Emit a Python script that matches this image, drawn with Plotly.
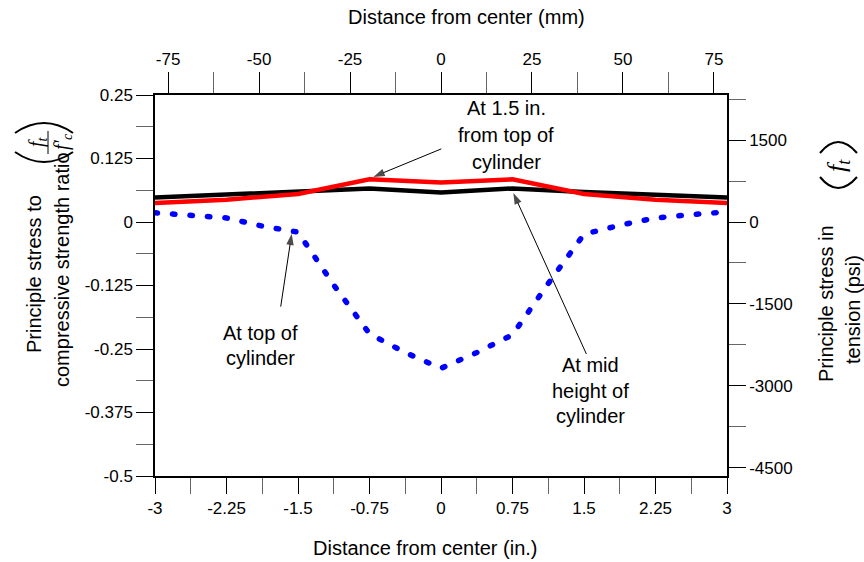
import plotly.graph_objects as go

# ---------------- data ----------------
x_in_lines = [-3, -2.25, -1.5, -0.75, 0, 0.75, 1.5, 2.25, 3]
mid_height = [0.048, 0.054, 0.060, 0.066, 0.058, 0.066, 0.059, 0.054, 0.048]
from_top_15 = [0.0375, 0.044, 0.055, 0.084, 0.078, 0.084, 0.055, 0.044, 0.0375]

x_in_top = [-3, -2.625, -2.25, -1.875, -1.5, -1.125, -0.75, -0.375, 0,
            0.375, 0.75, 1.125, 1.5, 1.875, 2.25, 2.625, 3]
top_of_cyl = [0.018, 0.014, 0.008, -0.008, -0.020, -0.124, -0.220, -0.257, -0.288,
              -0.257, -0.222, -0.121, -0.024, -0.0065, 0.008, 0.0145, 0.020]

x_ticks = [-3, -2.25, -1.5, -0.75, 0, 0.75, 1.5, 2.25, 3]
x_ticktext = ["-3", "-2.25", "-1.5", "-0.75", "0", "0.75", "1.5", "2.25", "3"]
y_ticks = [0.25, 0.125, 0, -0.125, -0.25, -0.375, -0.5]
y_ticktext = ["0.25", "0.125", "0", "-0.125", "-0.25", "-0.375", "-0.5"]
mm_ticks = [-75, -50, -25, 0, 25, 50, 75]
mm_ticktext = ["-75", "-50", "-25", "0", "25", "50", "75"]
psi_ticks = [1500, 0, -1500, -3000, -4500]
psi_ticktext = ["1500", "0", "-1500", "-3000", "-4500"]

FONT = "Liberation Sans, Arial, sans-serif"
SERIF = "Liberation Serif, Times New Roman, serif"
W, H = 864, 562
L, R, T, B = 155, 137, 95, 86
PW, PH = W - L - R, H - T - B
X_PER_PX = 6.0 / PW
Y_PER_PX = 0.75 / PH


def px(xpix):
    return (xpix - L) / PW


def py(ypix):
    return (H - B - ypix) / PH


fig = go.Figure()

fig.add_trace(go.Scatter(x=x_in_lines, y=mid_height, mode="lines",
                         line=dict(color="black", width=4.5), hoverinfo="skip",
                         showlegend=False))
fig.add_trace(go.Scatter(x=x_in_lines, y=from_top_15, mode="lines",
                         line=dict(color="#ff0000", width=4.5), hoverinfo="skip",
                         showlegend=False))
fig.add_trace(go.Scatter(x=x_in_top, y=top_of_cyl, mode="lines",
                         line=dict(color="#0000ff", width=5.5, dash="2.5px,15px"),
                         hoverinfo="skip", showlegend=False))

# leader arrows: head (data coords) and tail offset in pixels
for hx, hy, dxp, dyp in [(-0.710, 0.0888, 68, -28),
                         (-1.566, -0.0229, -11, 73),
                         (0.759, 0.0572, 73, 161)]:
    tx, ty = hx + dxp * X_PER_PX, hy - dyp * Y_PER_PX
    fig.add_trace(go.Scatter(x=[tx, hx], y=[ty, hy], mode="lines+markers",
                             line=dict(color="black", width=1),
                             marker=dict(symbol="arrow", size=[0, 12], angleref="previous",
                                         color="black", line=dict(width=0)),
                             hoverinfo="skip", showlegend=False))

# invisible traces to activate the secondary axes
fig.add_trace(go.Scatter(x=[0], y=[0], xaxis="x2", yaxis="y", mode="markers",
                         marker=dict(opacity=0), hoverinfo="skip", showlegend=False))
fig.add_trace(go.Scatter(x=[0], y=[0], xaxis="x", yaxis="y2", mode="markers",
                         marker=dict(opacity=0), hoverinfo="skip", showlegend=False))

tickfont = dict(family=FONT, size=17, color="black")
MINORC = "#666666"

fig.update_layout(
    width=W, height=H,
    margin=dict(l=L, r=R, t=T, b=B, pad=0),
    paper_bgcolor="white", plot_bgcolor="white",
    xaxis=dict(range=[-3, 3], tickvals=x_ticks, ticktext=x_ticktext,
               ticks="outside", ticklen=16, tickcolor="black", tickwidth=1,
               showline=True, linecolor="black", linewidth=1.5, showgrid=False,
               zeroline=False, tickfont=tickfont,
               minor=dict(tickvals=[-2.625, -1.875, -1.125, -0.375, 0.375, 1.125, 1.875, 2.625],
                          ticks="outside", ticklen=16, tickcolor=MINORC, tickwidth=1)),
    xaxis2=dict(range=[-78.6, 78.6], overlaying="x", side="top",
                tickvals=mm_ticks, ticktext=mm_ticktext,
                ticks="outside", ticklen=21, tickcolor="black", tickwidth=1,
                showline=True, linecolor="black", linewidth=1.5, showgrid=False,
                zeroline=False, tickfont=tickfont,
                minor=dict(tickvals=[-62.5, -37.5, -12.5, 12.5, 37.5, 62.5],
                           ticks="outside", ticklen=21, tickcolor=MINORC, tickwidth=1)),
    yaxis=dict(range=[-0.5, 0.25], tickvals=y_ticks, ticktext=y_ticktext,
               ticks="outside", ticklen=17, tickcolor="black", tickwidth=1,
               showline=True, linecolor="black", linewidth=1.5, showgrid=False,
               zeroline=False, tickfont=tickfont,
               minor=dict(tickvals=[0.1875, 0.0625, -0.0625, -0.1875, -0.3125, -0.4375],
                          ticks="outside", ticklen=17, tickcolor=MINORC, tickwidth=1)),
    yaxis2=dict(range=[-4650, 2325], overlaying="y", side="right",
                tickvals=psi_ticks, ticktext=psi_ticktext,
                ticks="outside", ticklen=17, tickcolor="black", tickwidth=1,
                showline=True, linecolor="black", linewidth=1.5, showgrid=False,
                zeroline=False, tickfont=tickfont,
                minor=dict(tickvals=[2250, 750, -750, -2250, -3750],
                           ticks="outside", ticklen=17, tickcolor=MINORC, tickwidth=1)),
)

ann = []
tfont = dict(family=FONT, size=20, color="black")


def text_at(text, xpix, ypix, angle=0, font=tfont):
    ann.append(dict(text=text, x=px(xpix), y=py(ypix), xref="paper", yref="paper",
                    xanchor="center", yanchor="middle", showarrow=False,
                    textangle=angle, font=font))


# axis titles
text_at("Distance from center (mm)", 466, 17)
text_at("Distance from center (in.)", 425, 548)
text_at("Principle stress to", 34, 274, -90)
text_at("compressive strength ratio", 62, 270, -90)
text_at("Principle stress in", 826, 304, -90)
text_at("tension (psi)", 853, 310, -90)

# math symbols: (f_t / f'_c) and (f_t), drawn rotated
text_at("<i>f<sub>t</sub></i>", 37, 142, -90, dict(family=SERIF, size=20, color="black"))
text_at("<i>f′<sub>c</sub></i>", 62, 142, -90, dict(family=SERIF, size=20, color="black"))
text_at("<i>f<sub>t</sub></i>", 838, 165, -90, dict(family=SERIF, size=26, color="black"))


def pth(points):
    (x0, y0), (cx, cy), (x1, y1) = points
    return "M{},{} Q{},{} {},{}".format(px(x0), py(y0), px(cx), py(cy), px(x1), py(y1))


shapes = []
for pts in [[(15, 152), (44, 172), (73, 152)],
            [(15, 133), (44, 113), (73, 133)],
            [(820, 153), (838, 131), (857, 153)],
            [(820, 177), (838, 199), (857, 177)]]:
    shapes.append(dict(type="path", path=pth(pts), xref="paper", yref="paper",
                       line=dict(color="black", width=2)))
shapes.append(dict(type="line", xref="paper", yref="paper",
                   x0=px(48), x1=px(48), y0=py(131), y1=py(154),
                   line=dict(color="black", width=1)))

# annotation labels (line by line)
for i, s in enumerate(["At 1.5 in.", "from top of", "cylinder"]):
    text_at(s, 506, 108 + 27 * i)
for i, s in enumerate(["At top of", "cylinder"]):
    text_at(s, 260, 333 + 25 * i)
for i, s in enumerate(["At mid", "height of", "cylinder"]):
    text_at(s, 590, 365 + 25.5 * i)

fig.update_layout(annotations=ann, shapes=shapes)

post = """
document.querySelectorAll('path.js-line').forEach(function(p){
  var s = (p.style.stroke || '').replace(/\\s/g,'');
  if (s === 'rgb(0,0,255)') { p.style.strokeLinecap = 'round'; }
});
"""
fig.write_html("out.html", post_script=post)
